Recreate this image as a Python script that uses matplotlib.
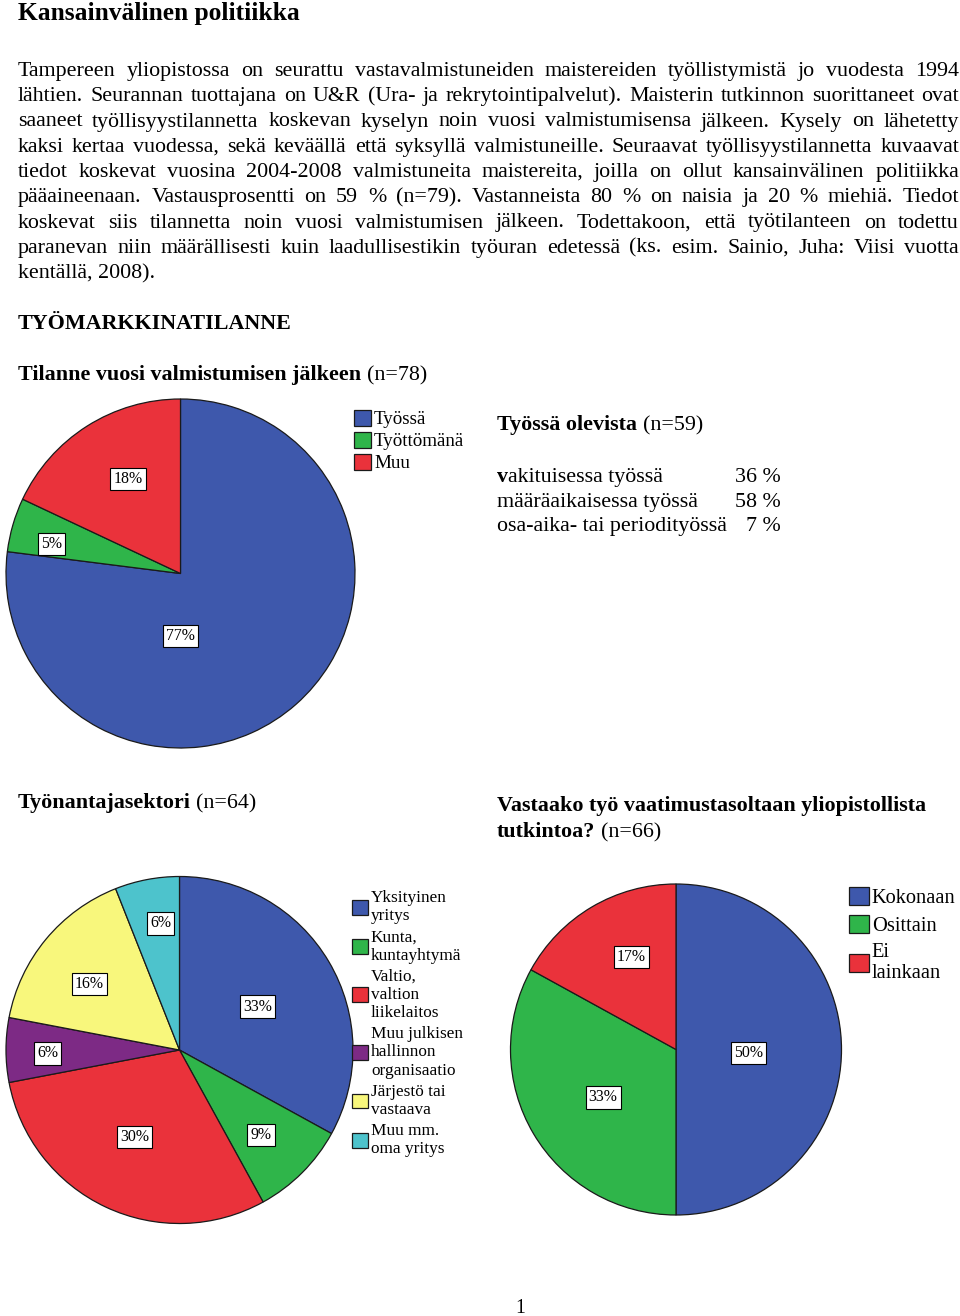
import matplotlib
matplotlib.use("Agg")
from matplotlib import pyplot as plt
from matplotlib.font_manager import FontProperties

W, H = 960, 1316
plt.rcParams['font.family'] = ['Liberation Serif', 'DejaVu Serif']

# --- data ---
status_labels = ["Työssä", "Työttömänä", "Muu"]
status_pct = [77, 5, 18]

sector_labels = ["Yksityinen\nyritys", "Kunta,\nkuntayhtymä", "Valtio,\nvaltion\nliikelaitos",
                 "Muu julkisen\nhallinnon\norganisaatio", "Järjestö tai\nvastaava", "Muu mm.\noma yritys"]
sector_pct = [33, 9, 30, 6, 16, 6]

level_labels = ["Kokonaan", "Osittain", "Ei\nlainkaan"]
level_pct = [50, 33, 17]

contract_labels = ["vakituisessa työssä", "määräaikaisessa työssä", "osa-aika- tai periodityössä"]
contract_pct = [36, 58, 7]

intro_lines = [
    "Tampereen yliopistossa on seurattu vastavalmistuneiden maistereiden työllistymistä jo vuodesta 1994",
    "lähtien. Seurannan tuottajana on U&R (Ura- ja rekrytointipalvelut). Maisterin tutkinnon suorittaneet ovat",
    "saaneet työllisyystilannetta koskevan kyselyn noin vuosi valmistumisensa jälkeen. Kysely on lähetetty",
    "kaksi kertaa vuodessa, sekä keväällä että syksyllä valmistuneille. Seuraavat työllisyystilannetta kuvaavat",
    "tiedot koskevat vuosina 2004-2008 valmistuneita maistereita, joilla on ollut kansainvälinen politiikka",
    "pääaineenaan. Vastausprosentti on 59 % (n=79). Vastanneista 80 % on naisia ja 20 % miehiä. Tiedot",
    "koskevat siis tilannetta noin vuosi valmistumisen jälkeen. Todettakoon, että työtilanteen on todettu",
    "paranevan niin määrällisesti kuin laadullisestikin työuran edetessä (ks. esim. Sainio, Juha: Viisi vuotta",
    "kentällä, 2008).",
]

BLUE, GREEN, RED = "#3e58ac", "#2fb54a", "#ea323b"
PURPLE, YELLOW, CYAN = "#7d2a85", "#f8f77c", "#4dc3cc"

BODY = 15.8

fig = plt.figure(figsize=(W / 100, H / 100), dpi=100)
renderer = fig.canvas.get_renderer()


def fx(x):
    return x / W


def fy(y):
    return 1 - y / H


def text_w(s, size, weight="normal"):
    fp = FontProperties(family="Liberation Serif", size=size, weight=weight)
    w, h, d = renderer.get_text_width_height_descent(s, fp, ismath=False)
    return w


def mixed(x, y, parts, size):
    """parts: list of (string, weight); y is the baseline in pixels"""
    for s, weight in parts:
        lead = len(s) - len(s.lstrip(" "))
        if lead:
            x += lead * (text_w("x x", size) - text_w("xx", size))
            s = s.lstrip(" ")
        fig.text(fx(x), fy(y), s, fontsize=size, fontweight=weight, va="baseline", ha="left")
        x += text_w(s, size, weight)


def justified(lines, x0, x1, y0, step, size):
    for i, line in enumerate(lines):
        y = y0 + i * step
        words = line.split()
        if i == len(lines) - 1:
            fig.text(fx(x0), fy(y), line, fontsize=size, va="baseline")
            continue
        widths = [text_w(w, size) for w in words]
        gap = (x1 - x0 - sum(widths)) / (len(words) - 1)
        x = x0
        for w, wd in zip(words, widths):
            fig.text(fx(x), fy(y), w, fontsize=size, va="baseline")
            x += wd + gap


def draw_pie(cx, cy, r, values, colors, label_pos, fs=11.4):
    ax = fig.add_axes([fx(cx - r), fy(cy + r), 2 * r / W, 2 * r / H])
    wedges, _ = ax.pie(values, colors=colors, startangle=90, counterclock=False,
                       wedgeprops=dict(edgecolor="#1a1a1a", linewidth=0.9))
    ax.set_xlim(-1, 1)
    ax.set_ylim(-1, 1)
    for w in wedges:
        w.set_clip_on(False)
    for v, (lx, ly) in zip(values, label_pos):
        ax.text(lx, ly, f"{v}%", ha="center", va="center", fontsize=fs,
                bbox=dict(boxstyle="square,pad=0.2", fc="white", ec="black", lw=0.8))
    return wedges


def set_spacing(leg, ls):
    for t in leg.get_texts():
        t.set_linespacing(ls)


# --- header and intro ---
fig.text(fx(18), fy(20), "Kansainvälinen politiikka", fontsize=18.4, fontweight="bold", va="baseline")
justified(intro_lines, 18, 959, 76, 25.25, BODY)

fig.text(fx(18), fy(329), "TYÖMARKKINATILANNE", fontsize=BODY, fontweight="bold", va="baseline")
mixed(18, 380, [("Tilanne vuosi valmistumisen jälkeen", "bold"), (" (n=78)", "normal")], BODY)

# --- pie 1 ---
w1 = draw_pie(180.5, 573.5, 174.5, status_pct, [BLUE, GREEN, RED],
              [(0, -0.36), (-0.74, 0.17), (-0.30, 0.54)])
leg1 = fig.legend(w1, status_labels, loc="upper left", bbox_to_anchor=(fx(354), fy(410)),
                  frameon=False, fontsize=13.7, handlelength=0.9, handleheight=0.9,
                  handletextpad=0.15, labelspacing=0.18, borderpad=0, borderaxespad=0)

mixed(497, 430, [("Työssä olevista", "bold"), (" (n=59)", "normal")], BODY)
for i, (lab, v) in enumerate(zip(contract_labels, contract_pct)):
    y = 482 + i * 24.7
    if i == 0:
        mixed(497, y, [(lab[0], "bold"), (lab[1:], "normal")], BODY)
    else:
        fig.text(fx(497), fy(y), lab, fontsize=BODY, va="baseline")
    fig.text(fx(781), fy(y), f"{v} %", fontsize=BODY, va="baseline", ha="right")

# --- pie 2 ---
mixed(18, 808, [("Työnantajasektori", "bold"), (" (n=64)", "normal")], BODY)
w2 = draw_pie(179.5, 1050, 173.5, sector_pct, [BLUE, GREEN, RED, PURPLE, YELLOW, CYAN],
              [(0.45, 0.25), (0.47, -0.49), (-0.26, -0.50), (-0.76, -0.02), (-0.52, 0.38), (-0.11, 0.73)])
leg2 = fig.legend(w2, sector_labels, loc="upper left", bbox_to_anchor=(fx(352), fy(890)),
                  frameon=False, fontsize=12.4, handlelength=0.95, handleheight=0.95,
                  handletextpad=0.15, labelspacing=0.28, borderpad=0, borderaxespad=0)
set_spacing(leg2, 1.2)

# --- pie 3 ---
mixed(497, 811, [("Vastaako työ vaatimustasoltaan yliopistollista", "bold")], BODY)
mixed(497, 837, [("tutkintoa?", "bold"), (" (n=66)", "normal")], BODY)
w3 = draw_pie(676, 1049.5, 165.5, level_pct, [BLUE, GREEN, RED],
              [(0.44, -0.02), (-0.44, -0.29), (-0.27, 0.56)])
leg3 = fig.legend(w3, level_labels, loc="upper left", bbox_to_anchor=(fx(849), fy(887)),
                  frameon=False, fontsize=14.7, handlelength=1.0, handleheight=1.0,
                  handletextpad=0.12, labelspacing=0.33, borderpad=0, borderaxespad=0)
set_spacing(leg3, 1.15)

fig.text(fx(520), fy(1313), "1", fontsize=14.4, va="baseline", ha="center")

fig.savefig("out.png", dpi=100, facecolor="white")
